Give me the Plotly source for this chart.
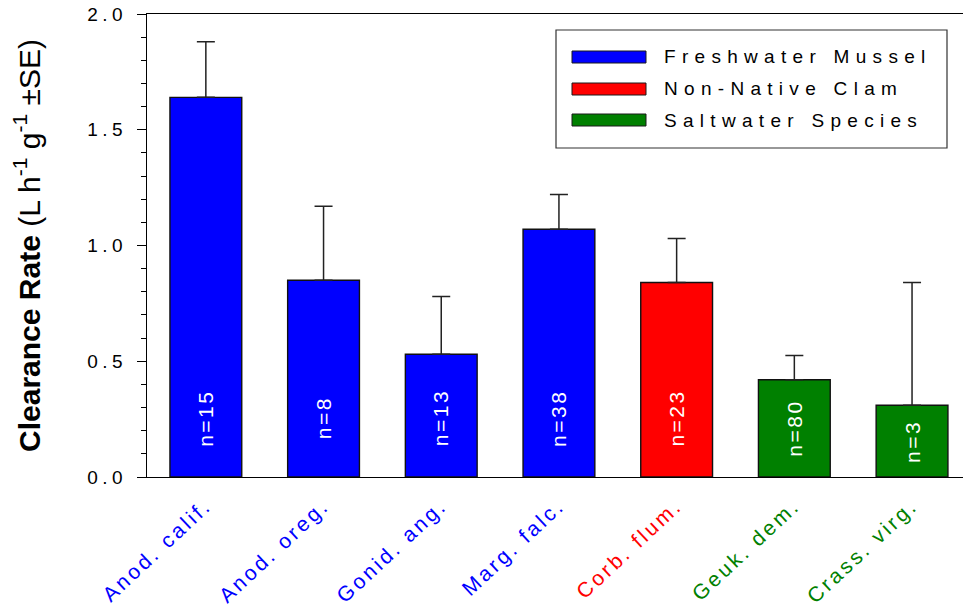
import plotly.graph_objects as go

# ---- data ----
categories = ["Anod. calif.", "Anod. oreg.", "Gonid. ang.", "Marg. falc.",
              "Corb. flum.", "Geuk. dem.", "Crass. virg."]
groups = ["Freshwater Mussel", "Freshwater Mussel", "Freshwater Mussel", "Freshwater Mussel",
          "Non-Native Clam", "Saltwater Species", "Saltwater Species"]
means = [1.64, 0.85, 0.53, 1.07, 0.84, 0.42, 0.31]
se = [0.24, 0.32, 0.25, 0.15, 0.19, 0.105, 0.53]
n_labels = ["n=15", "n=8", "n=13", "n=38", "n=23", "n=80", "n=3"]
legend_names = ["Freshwater Mussel", "Non-Native Clam", "Saltwater Species"]
y_ticks = [0.0, 0.5, 1.0, 1.5, 2.0]

group_colors = {"Freshwater Mussel": "#0000ff",
                "Non-Native Clam": "#ff0000",
                "Saltwater Species": "#008000"}
bar_colors = [group_colors[g] for g in groups]

FONT = "Liberation Sans"
W, H = 963, 607
ML, MR, MT, MB = 147, 0, 14, 130
PW, PH = W - ML - MR, H - MT - MB
LABEL_Y = 0.255  # default centre height of the in-bar n labels


def px_x(px):
    return (px - ML) / PW


def px_y(py):
    return (H - MB - py) / PH


x_idx = list(range(len(categories)))

fig = go.Figure()
fig.add_trace(go.Bar(
    x=x_idx, y=means, width=0.61,
    marker=dict(color=bar_colors, line=dict(color="#111111", width=1.4)),
    error_y=dict(type="data", array=se, arrayminus=[0] * len(se), symmetric=False,
                 color="#222222", thickness=1.5, width=9),
    showlegend=False, hoverinfo="skip",
))

annotations = []
# custom legend (first 3 annotations)
legend_rows_px = [57, 89, 120]
for name, ry in zip(legend_names, legend_rows_px):
    annotations.append(dict(
        xref="paper", yref="paper", x=px_x(662), y=px_y(ry),
        xanchor="left", yanchor="middle", align="left",
        text=name, showarrow=False,
        font=dict(family=FONT, size=19, color="black")))

# n labels inside bars
for i, lab, m in zip(x_idx, n_labels, means):
    annotations.append(dict(
        xref="x", yref="y", x=i, y=min(LABEL_Y, m / 2), text=lab, showarrow=False,
        textangle=-90, xanchor="center", yanchor="middle",
        font=dict(family=FONT, size=21, color="white")))

shapes = [dict(type="rect", xref="paper", yref="paper",
               x0=px_x(556), x1=px_x(947), y0=px_y(148), y1=px_y(30),
               line=dict(color="#333333", width=1.2), fillcolor="white", layer="below")]
for name, ry in zip(legend_names, legend_rows_px):
    shapes.append(dict(type="rect", xref="paper", yref="paper",
                       x0=px_x(572), x1=px_x(646), y0=px_y(ry + 6), y1=px_y(ry - 6),
                       line=dict(color="#1a1a1a", width=1), fillcolor=group_colors[name]))

ticktext = ['<span style="color:%s">%s</span>' % (c, t) for c, t in zip(bar_colors, categories)]

fig.update_layout(
    width=W, height=H, autosize=False,
    margin=dict(l=ML, r=MR, t=MT, b=MB, pad=0),
    paper_bgcolor="white", plot_bgcolor="white",
    font=dict(family=FONT, size=19, color="black"),
    showlegend=False,
    annotations=annotations, shapes=shapes,
)
fig.update_xaxes(
    range=[-0.5, 6.433], tickmode="array", tickvals=x_idx, ticktext=ticktext,
    tickangle=-43, tickfont=dict(family=FONT, size=21),
    showline=True, linecolor="black", linewidth=1.3, mirror=True,
    ticks="", showgrid=False, zeroline=False, ticklabelstandoff=7,
)
fig.update_yaxes(
    range=[0, 2.0], tickmode="array", tickvals=y_ticks, tickformat=".1f",
    ticks="outside", ticklen=9, tickwidth=1.3, tickcolor="black",
    minor=dict(dtick=0.1, ticks="outside", ticklen=5, tickwidth=1.3, tickcolor="black", showgrid=False),
    showline=True, linecolor="black", linewidth=1.3, mirror=False,
    showgrid=False, zeroline=False, tickfont=dict(family=FONT, size=19),
    ticklabelstandoff=6,
    title=dict(text="<b>Clearance Rate</b> (L h<sup>-1</sup> g<sup>-1</sup> ±SE)",
               font=dict(family=FONT, size=30, color="black"), standoff=51),
)

post_js = """
document.documentElement.style.margin='0';
document.body.style.margin='0';
document.body.style.padding='0';
var gd = document.getElementById('{plot_id}');
gd.querySelectorAll('.ytick text').forEach(function(t){ t.style.letterSpacing='4.5px'; });
gd.querySelectorAll('.xtick text').forEach(function(t){ t.style.letterSpacing='3px'; });
gd.querySelectorAll('g.annotation').forEach(function(g){
  var idx = +g.getAttribute('data-index');
  var t = g.querySelector('text');
  if(t){ t.style.letterSpacing = idx < 3 ? '6.3px' : '2.5px'; }
});
"""

fig.write_html("out.html", post_script=post_js, config={"displayModeBar": False})
